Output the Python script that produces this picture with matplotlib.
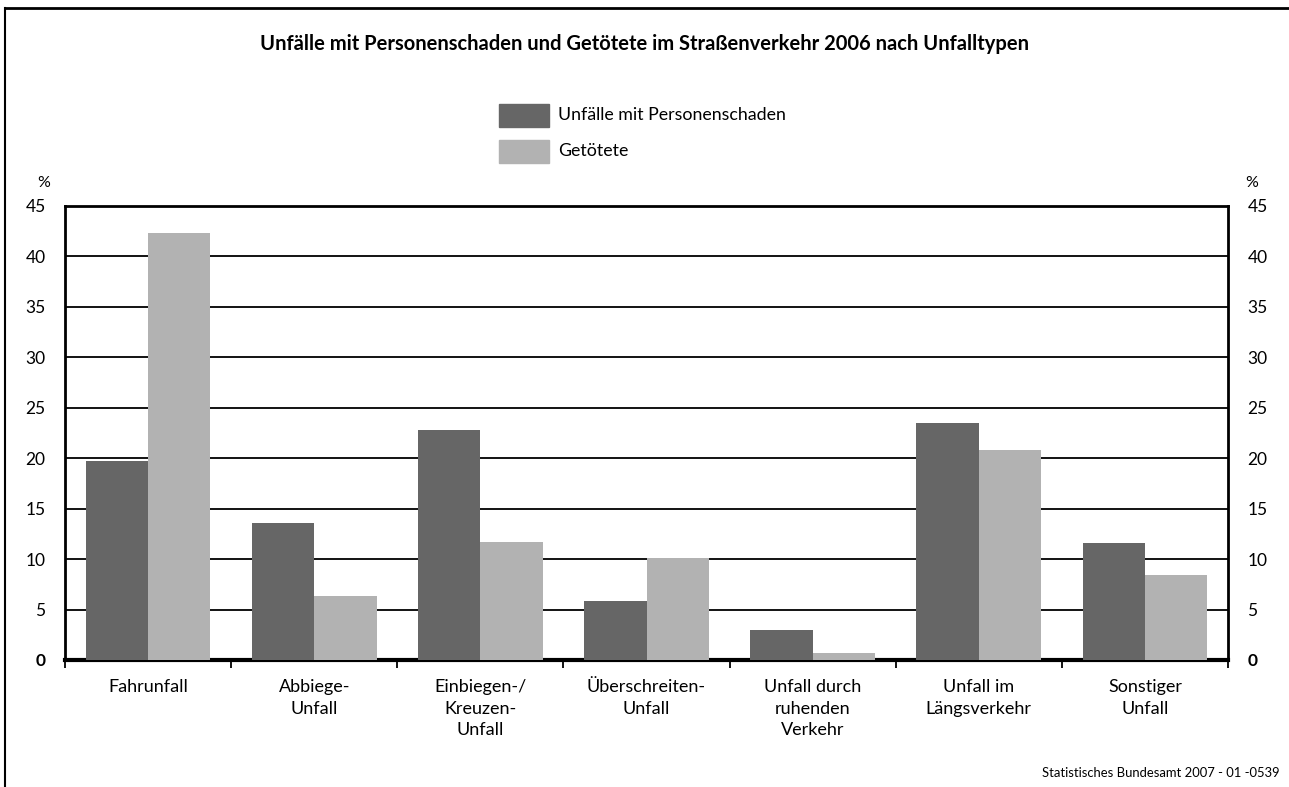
import numpy as np
import matplotlib
matplotlib.use("Agg")
import matplotlib.pyplot as plt
from matplotlib.lines import Line2D
from matplotlib.patches import Rectangle

plt.rcParams["font.family"] = ["Lato", "DejaVu Sans"]

categories = [
    "Fahrunfall",
    "Abbiege-\nUnfall",
    "Einbiegen-/\nKreuzen-\nUnfall",
    "Überschreiten-\nUnfall",
    "Unfall durch\nruhenden\nVerkehr",
    "Unfall im\nLängsverkehr",
    "Sonstiger\nUnfall",
]
series_names = ["Unfälle mit Personenschaden", "Getötete"]
unfaelle = [19.7, 13.6, 22.8, 5.8, 3.0, 23.5, 11.6]
getoetete = [42.3, 6.3, 11.7, 10.1, 0.7, 20.8, 8.4]
yticks = [0, 5, 10, 15, 20, 25, 30, 35, 40, 45]

DARK = "#666666"
LIGHT = "#b2b2b2"
W, H = 1289, 787

fig = plt.figure(figsize=(W / 100, H / 100), dpi=100)
ax = fig.add_axes([65 / W, 1 - 660 / H, 1163 / W, 454 / H])

x = np.arange(len(categories)) + 0.5
w = 0.375
ax.bar(x - w / 2, unfaelle, w, color=DARK, zorder=3)
ax.bar(x + w / 2, getoetete, w, color=LIGHT, zorder=3)

ax.set_xlim(0, len(categories))
ax.set_ylim(0, 45)

# horizontal gridlines
for v in yticks[1:-1]:
    ax.axhline(v, color="black", lw=1.3, zorder=1)

ax.set_yticks(yticks)
ax.tick_params(axis="y", length=0, labelsize=12.5, pad=14,
               left=True, right=True, labelleft=True, labelright=True)

ax.set_xticks(x)
ax.set_xticklabels(categories, fontsize=13, linespacing=1.4, va="top")
ax.tick_params(axis="x", which="major", length=0, pad=14)
ax.set_xticks(np.arange(len(categories) + 1), minor=True)
ax.tick_params(axis="x", which="minor", length=6, width=1.3, direction="out")

for side in ["left", "right", "top"]:
    ax.spines[side].set_linewidth(2)
ax.spines["bottom"].set_linewidth(3)

# bold "0" on both sides
fig.canvas.draw()
for t in ax.yaxis.get_major_ticks():
    for lbl in (t.label1, t.label2):
        if lbl.get_text() == "0":
            lbl.set_fontweight("bold")

fig.text(50 / W, 1 - 183 / H, "%", ha="right", va="center", fontsize=11.5)
fig.text(1245 / W, 1 - 183 / H, "%", ha="left", va="center", fontsize=11.5)

fig.text(645 / W, 1 - 44 / H,
         "Unfälle mit Personenschaden und Getötete im Straßenverkehr 2006 nach Unfalltypen",
         ha="center", va="center", fontsize=14.5, fontweight="bold")

# legend
for i, (name, col) in enumerate(zip(series_names, [DARK, LIGHT])):
    y0 = 104 + i * 36
    fig.patches.append(Rectangle((499 / W, 1 - (y0 + 23) / H), 50 / W, 23 / H,
                                 transform=fig.transFigure, color=col))
    fig.text(558 / W, 1 - (y0 + 11.5) / H, name, ha="left", va="center", fontsize=12.8)

fig.text(1280 / W, 1 - 773 / H, "Statistisches Bundesamt 2007 - 01 -0539",
         ha="right", va="center", fontsize=9.4)

# outer frame (left and top only)
fig.add_artist(Line2D([5 / W, 5 / W], [0, 1 - 8 / H], color="black", lw=1.5))
fig.add_artist(Line2D([5 / W, 1], [1 - 8 / H, 1 - 8 / H], color="black", lw=2))

fig.savefig("out.png", dpi=100)
